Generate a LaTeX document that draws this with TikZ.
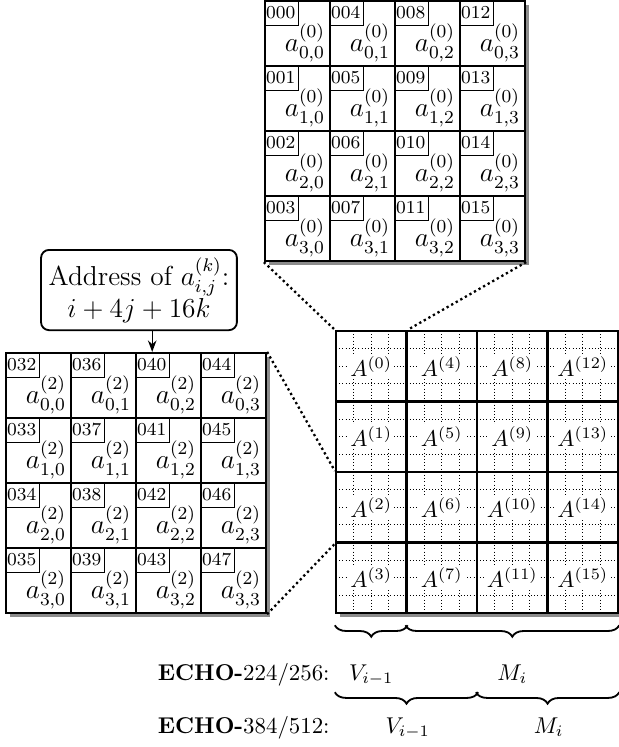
\documentclass[tikz,border=0pt]{standalone}
\usepackage{amsmath}
\usetikzlibrary{arrows.meta, positioning, calc, decorations.pathreplacing}

\begin{document}
\begin{tikzpicture}[
    cell/.style={draw, line width=1pt, fill=white, minimum size=1cm, inner sep=0pt},
    addr/.style={draw, thin, font=\footnotesize, anchor=north west, text width=13.2pt, align=left,
                 minimum height=0.385cm, inner xsep=0.8pt, inner ysep=0pt},
    val/.style={anchor=south east, font=\large, inner xsep=2.5pt, inner ysep=2pt},
    block/.style={draw, line width=1pt, minimum size=1.085cm, inner sep=0pt},
    blocklabel/.style={fill=white, inner sep=1pt},
    zoomline/.style={line width=1pt, dash pattern=on 1pt off 1.3pt},
    shadow/.style={fill=black!45},
    brace/.style={decorate, decoration={brace, mirror, amplitude=5pt}, thick}
]
    \useasboundingbox (0,0) rectangle (9.508,-11.492);

    % top matrix, k = 0
    \coordinate (tnw) at (4.077,-0.015);
    \fill[shadow] ($(tnw)+(0.055,-0.055)$) rectangle ($(tnw)+(4.055,-4.055)$);
    \foreach \i in {0,...,3}{
        \foreach \j in {0,...,3}{
            \node[cell] (t-\i-\j) at ($(tnw)+(\j+0.5,-\i-0.5)$) {};
            \pgfmathtruncatemacro\ad{\i+4*\j}
            \node[addr] (ta-\i-\j) at (t-\i-\j.north west) {\ifnum\ad<10 00\else 0\fi\ad};
            \node[val] at (t-\i-\j.south east) {$a_{\i,\j}^{(0)}$};
        }
    }

    % left matrix, k = 2
    \coordinate (lnw) at (0.092,-5.431);
    \fill[shadow] ($(lnw)+(0.055,-0.055)$) rectangle ($(lnw)+(4.055,-4.055)$);
    \foreach \i in {0,...,3}{
        \foreach \j in {0,...,3}{
            \node[cell] (l-\i-\j) at ($(lnw)+(\j+0.5,-\i-0.5)$) {};
            \pgfmathtruncatemacro\ad{32+\i+4*\j}
            \node[addr] (la-\i-\j) at (l-\i-\j.north west) {0\ad};
            \node[val] at (l-\i-\j.south east) {$a_{\i,\j}^{(2)}$};
        }
    }

    % address formula
    \node[draw, thick, rounded corners=3.5pt, align=center, font=\large, minimum width=2.985cm, minimum height=1.23cm]
        (addrbox) at (2.138,-4.462) {Address of $a_{i,j}^{(k)}$:\\ $i+4j+16k$};
    \draw[semithick, -{Stealth[length=5pt]}] (addrbox.south -| la-0-2.north) -- (la-0-2.north);

    % state grid
    \coordinate (gnw) at (5.169,-5.092);
    \fill[shadow] ($(gnw)+(0.055,-0.055)$) rectangle ($(gnw)+(4.395,-4.395)$);
    \fill[white] (gnw) rectangle ($(gnw)+(4.34,-4.34)$);
    \foreach \k in {1,2,3,5,6,7,9,10,11,13,14,15}{
        \draw[densely dotted] ($(gnw)+(\k*0.27125,0)$) -- ($(gnw)+(\k*0.27125,-4.34)$);
        \draw[densely dotted] ($(gnw)+(0,-\k*0.27125)$) -- ($(gnw)+(4.34,-\k*0.27125)$);
    }
    \foreach \i in {0,...,3}{
        \foreach \j in {0,...,3}{
            \pgfmathtruncatemacro\n{\i+4*\j}
            \node[block] (blk-\i-\j) at ($(gnw)+(\j*1.085+0.5425,-\i*1.085-0.5425)$) {};
            \node[blocklabel] at (blk-\i-\j) {$A^{(\n)}$};
        }
    }

    % zoom lines
    \draw[zoomline] (t-3-0.south west) -- (blk-0-0.north west);
    \draw[zoomline] (t-3-3.south east) -- (blk-0-0.north east);
    \draw[zoomline] (l-0-3.north east) -- (blk-2-0.north west);
    \draw[zoomline] (l-3-3.south east) -- (blk-2-0.south west);

    % message split
    \draw[brace] ($(blk-3-0.south west)+(0,-0.17)$) -- ($(blk-3-0.south east)+(0,-0.17)$);
    \draw[brace] ($(blk-3-1.south west)+(0,-0.17)$) -- ($(blk-3-3.south east)+(0,-0.17)$);
    \draw[brace] ($(blk-3-0.south west)+(0,-1.2)$) -- ($(blk-3-1.south east)+(0,-1.2)$);
    \draw[brace] ($(blk-3-2.south west)+(0,-1.2)$) -- ($(blk-3-3.south east)+(0,-1.2)$);

    \coordinate (mmid) at ($(blk-3-1.south)!0.5!(blk-3-3.south)$);
    \node[anchor=base east, inner sep=0pt] (echo1) at (5.077,-10.462) {\textbf{ECHO-}224/256:};
    \node[anchor=base east, inner sep=0pt] (echo2) at (5.077,-11.277) {\textbf{ECHO-}384/512:};
    \node[anchor=base, inner sep=0pt] (v1) at (blk-3-0.south |- echo1.base) {$V_{i-1}$};
    \node[anchor=base, inner sep=0pt] (m1) at (mmid |- echo1.base) {$M_i$};
    \node[anchor=base, inner sep=0pt] (v2) at (blk-3-0.south east |- echo2.base) {$V_{i-1}$};
    \node[anchor=base, inner sep=0pt] (m2) at (blk-3-2.south east |- echo2.base) {$M_i$};
\end{tikzpicture}
\end{document}
